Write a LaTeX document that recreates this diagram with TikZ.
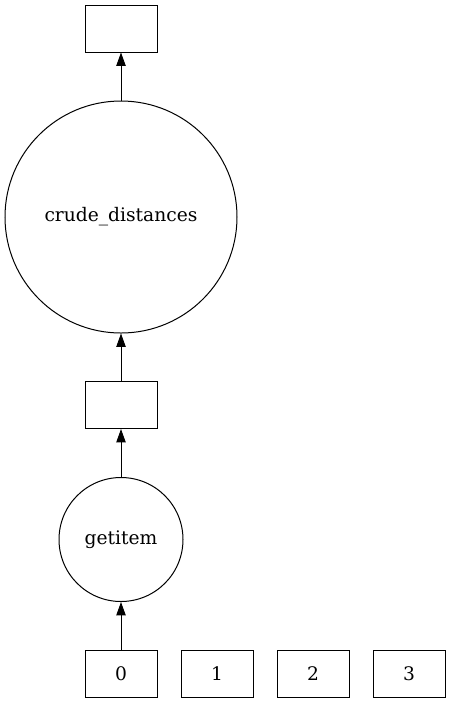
\documentclass[tikz,border=0pt]{standalone}
\usepackage{fontspec}
\setmainfont{DejaVu Serif}
\usetikzlibrary{arrows.meta, positioning}
\tikzset{
	datanode/.style={draw, line width=0.75pt, minimum width=54pt, minimum height=35.25pt, inner sep=0pt, font=\fontsize{14}{16}\selectfont},
	tasknode/.style={draw, circle, line width=0.75pt, inner sep=0pt, font=\fontsize{14}{16}\selectfont},
	dep/.style={-{Triangle[length=10pt, width=7pt]}, line width=0.75pt}
}

\begin{document}
\begin{tikzpicture}[x=0.75pt, y=-0.75pt]
			\useasboundingbox (0,0) rectangle (451,704);
			% outputs
			\node[datanode] (out) at (121, 28.5) {};
			\node[tasknode, minimum size=174pt] (crude) at (121, 217) {crude\_distances};
			\node[datanode] (mid) at (121, 405) {};
			\node[tasknode, minimum size=93pt] (getitem) at (121, 539.5) {getitem};
			% inputs
			\node[datanode] (in0) at (121, 674) {0};
			\node[datanode] (in1) at (217, 674) {1};
			\node[datanode] (in2) at (313, 674) {2};
			\node[datanode] (in3) at (409, 674) {3};
			\draw[dep] (in0) -- (getitem);
			\draw[dep] (getitem) -- (mid);
			\draw[dep] (mid) -- (crude);
			\draw[dep] (crude) -- (out);
			\end{tikzpicture}
\end{document}
